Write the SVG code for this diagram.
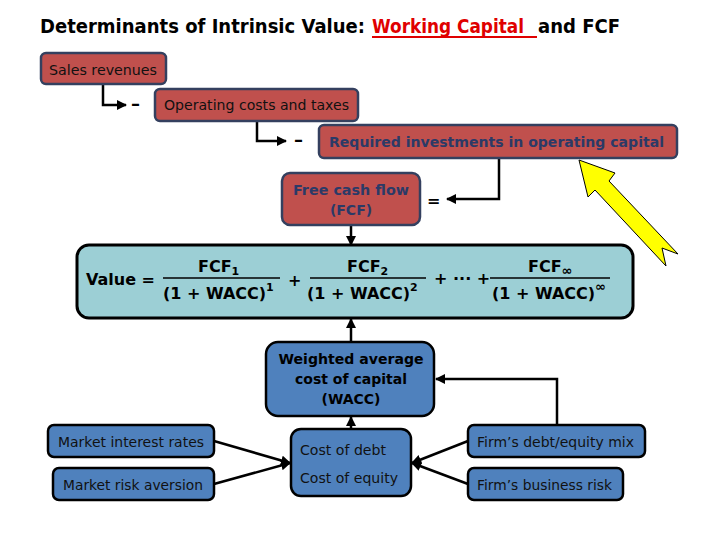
<svg xmlns="http://www.w3.org/2000/svg" width="720" height="540" viewBox="0 0 720 540">
<style>
.red{fill:#c0504d;stroke:#34405f;stroke-width:2.5}
.blue{fill:#4f81bd;stroke:#000;stroke-width:2.5}
.teal{fill:#9ccfd5;stroke:#000;stroke-width:3}
.ttl{font-family:"DejaVu Sans",Verdana,sans-serif;font-size:19px;font-weight:bold;fill:#000}
.t{font-family:"DejaVu Sans",Verdana,sans-serif;font-size:14px;fill:#111}
.tb{font-family:"DejaVu Sans",Verdana,sans-serif;font-size:14px;font-weight:bold;fill:#2b3a67}
.w{font-family:"DejaVu Sans",Verdana,sans-serif;font-size:14px;font-weight:bold;fill:#000}
.f{font-family:"DejaVu Sans",Verdana,sans-serif;font-size:16px;font-weight:bold;fill:#000}
.c{fill:none;stroke:#000;stroke-width:2.5}
</style>
<defs>
<marker id="ah" viewBox="0 0 10 10" refX="9" refY="5" markerWidth="4" markerHeight="4" orient="auto" markerUnits="strokeWidth">
<path d="M0,0 L10,5 L0,10 z" fill="#000"/>
</marker>
</defs>
<rect width="720" height="540" fill="#fff"/>
<g id="title">
<text class="ttl" x="40" y="33" textLength="325" lengthAdjust="spacingAndGlyphs">Determinants of Intrinsic Value:</text>
<text class="ttl" x="372" y="33" textLength="152" lengthAdjust="spacingAndGlyphs" style="fill:#e00000">Working Capital</text>
<line x1="372" y1="37" x2="537" y2="37" stroke="#e00000" stroke-width="2"/>
<text class="ttl" x="538" y="33" textLength="82" lengthAdjust="spacingAndGlyphs">and FCF</text>
</g>

<g id="connectors">
<path class="c" d="M103,84 V105 H126" marker-end="url(#ah)"/>
<path class="c" d="M257,121 V141 H286" marker-end="url(#ah)"/>
<path class="c" d="M499,158 V199 H447" marker-end="url(#ah)"/>
<path class="c" d="M351,225 V245" marker-end="url(#ah)"/>
<path class="c" d="M351,342 V319" marker-end="url(#ah)"/>
<path class="c" d="M351,430 V417" marker-end="url(#ah)"/>
<path class="c" d="M557,425 V379 H436" marker-end="url(#ah)"/>
<path class="c" d="M214,441 L290,463" marker-end="url(#ah)"/>
<path class="c" d="M214,484 L290,463" marker-end="url(#ah)"/>
<path class="c" d="M468,441 L412,463" marker-end="url(#ah)"/>
<path class="c" d="M468,484 L412,463" marker-end="url(#ah)"/>
</g>

<g id="ops">
<text class="f" x="131" y="110" style="font-size:18px">–</text>
<text class="f" x="294" y="146" style="font-size:18px">–</text>
<text class="f" x="427" y="206">=</text>
</g>

<g id="sales">
<rect class="red" x="41" y="53" width="125" height="31" rx="5"/>
<text class="t" x="49" y="75" textLength="108" lengthAdjust="spacingAndGlyphs">Sales revenues</text>
</g>
<g id="opcosts">
<rect class="red" x="155" y="89" width="203" height="32" rx="5"/>
<text class="t" x="164" y="110" textLength="185" lengthAdjust="spacingAndGlyphs">Operating costs and taxes</text>
</g>
<g id="invest">
<rect class="red" x="319" y="125" width="358" height="33" rx="5"/>
<text class="tb" x="329" y="147" textLength="335" lengthAdjust="spacingAndGlyphs">Required investments in operating capital</text>
</g>
<g id="fcf">
<rect class="red" x="282" y="173" width="138" height="52" rx="8"/>
<text class="tb" x="351" y="195" text-anchor="middle" textLength="116" lengthAdjust="spacingAndGlyphs">Free cash flow</text>
<text class="tb" x="351" y="215" text-anchor="middle">(FCF)</text>
</g>

<g id="value">
<rect class="teal" x="77" y="245" width="556" height="73" rx="12"/>
<text class="f" x="86" y="285">Value =</text>
<text class="f" x="198" y="272">FCF<tspan font-size="11" dy="3">1</tspan></text>
<line x1="163" y1="278" x2="280" y2="278" stroke="#000" stroke-width="1.5"/>
<text class="f" x="163" y="299">(1 + WACC)<tspan font-size="11" dy="-8">1</tspan></text>
<text class="f" x="288" y="286">+</text>
<text class="f" x="347" y="272">FCF<tspan font-size="11" dy="3">2</tspan></text>
<line x1="310" y1="278" x2="426" y2="278" stroke="#000" stroke-width="1.5"/>
<text class="f" x="307" y="299">(1 + WACC)<tspan font-size="11" dy="-8">2</tspan></text>
<text class="f" x="434" y="284">+ ··· +</text>
<text class="f" x="528" y="272">FCF<tspan font-size="13" dy="3">∞</tspan></text>
<line x1="490" y1="278" x2="610" y2="278" stroke="#000" stroke-width="1.5"/>
<text class="f" x="492" y="299">(1 + WACC)<tspan font-size="13" dy="-8">∞</tspan></text>
</g>

<g id="wacc">
<rect class="blue" x="266" y="342" width="168" height="74" rx="12"/>
<text class="w" x="351" y="364" text-anchor="middle" textLength="145" lengthAdjust="spacingAndGlyphs">Weighted average</text>
<text class="w" x="351" y="384" text-anchor="middle">cost of capital</text>
<text class="w" x="351" y="404" text-anchor="middle">(WACC)</text>
</g>

<g id="costs">
<rect class="blue" x="291" y="429" width="120" height="67" rx="10"/>
<text class="t" x="300" y="455" textLength="86" lengthAdjust="spacingAndGlyphs">Cost of debt</text>
<text class="t" x="300" y="483" textLength="98" lengthAdjust="spacingAndGlyphs">Cost of equity</text>
</g>
<g id="mir">
<rect class="blue" x="48" y="425" width="166" height="32" rx="6"/>
<text class="t" x="58" y="447" textLength="146" lengthAdjust="spacingAndGlyphs">Market interest rates</text>
</g>
<g id="mra">
<rect class="blue" x="53" y="468" width="161" height="32" rx="6"/>
<text class="t" x="63" y="490" textLength="140" lengthAdjust="spacingAndGlyphs">Market risk aversion</text>
</g>
<g id="dem">
<rect class="blue" x="468" y="425" width="177" height="32" rx="6"/>
<text class="t" x="477" y="447" textLength="157" lengthAdjust="spacingAndGlyphs">Firm’s debt/equity mix</text>
</g>
<g id="fbr">
<rect class="blue" x="468" y="468" width="155" height="32" rx="6"/>
<text class="t" x="477" y="490" textLength="135" lengthAdjust="spacingAndGlyphs">Firm’s business risk</text>
</g>

<g id="pointer">
<polygon points="579,160 615,173 609,181 678,254 662,248 666,266 595,190 588,197" fill="#ffff00" stroke="#000" stroke-width="1"/>
</g>
</svg>
